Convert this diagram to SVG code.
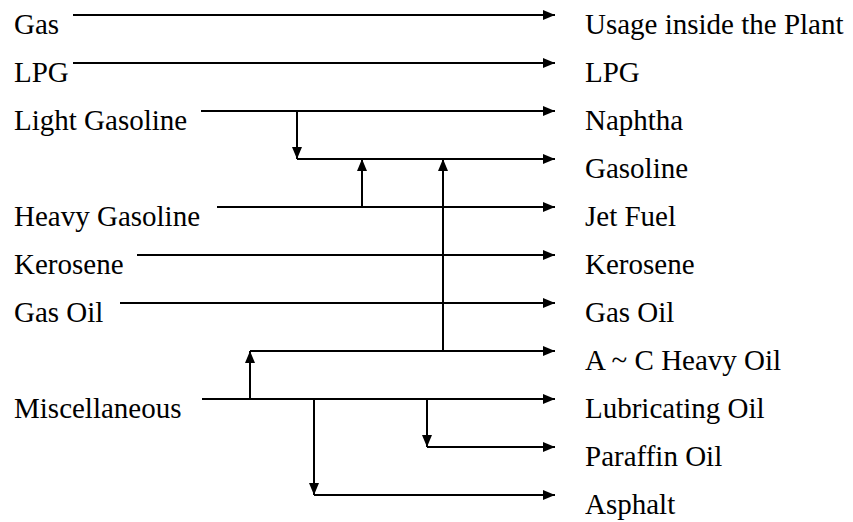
<svg xmlns="http://www.w3.org/2000/svg" width="853" height="522" viewBox="0 0 853 522">
<style>
.t{font-family:Liberation Serif, Times New Roman, serif;font-size:29px;fill:#000}
.a{stroke:#000;stroke-width:2;fill:none;marker-end:url(#ah)}
</style>
<defs>
<marker id="ah" markerUnits="userSpaceOnUse" markerWidth="13" markerHeight="11" refX="12" refY="5.5" orient="auto">
<path d="M0,0.5 L12,5.5 L0,10.5 Z" fill="#000"/>
</marker>
</defs>
<rect width="853" height="522" fill="#fff"/>
<g font-family="Liberation Serif" font-size="29" fill="#000">
<g id="sources">
<g id="src-gas"><text class="t" x="14" y="34">Gas</text></g>
<g id="src-lpg"><text class="t" x="14" y="82">LPG</text></g>
<g id="src-light-gasoline"><text class="t" x="14" y="130">Light Gasoline</text></g>
<g id="src-heavy-gasoline"><text class="t" x="14" y="226">Heavy Gasoline</text></g>
<g id="src-kerosene"><text class="t" x="14" y="274">Kerosene</text></g>
<g id="src-gas-oil"><text class="t" x="14" y="322">Gas Oil</text></g>
<g id="src-misc"><text class="t" x="14" y="418">Miscellaneous</text></g>
</g>
<g id="products">
<g id="p-usage"><text class="t" x="585" y="34">Usage inside the Plant</text></g>
<g id="p-lpg"><text class="t" x="585" y="82">LPG</text></g>
<g id="p-naphtha"><text class="t" x="585" y="130">Naphtha</text></g>
<g id="p-gasoline"><text class="t" x="585" y="178">Gasoline</text></g>
<g id="p-jet"><text class="t" x="585" y="226">Jet Fuel</text></g>
<g id="p-kerosene"><text class="t" x="585" y="274">Kerosene</text></g>
<g id="p-gas-oil"><text class="t" x="585" y="322">Gas Oil</text></g>
<g id="p-heavy-oil"><text class="t" x="585" y="370">A ~ C Heavy Oil</text></g>
<g id="p-lube"><text class="t" x="585" y="418">Lubricating Oil</text></g>
<g id="p-paraffin"><text class="t" x="585" y="466">Paraffin Oil</text></g>
<g id="p-asphalt"><text class="t" x="585" y="514">Asphalt</text></g>
</g>
</g>
<g id="connectors">
<line class="a" x1="73" y1="15" x2="555" y2="15"/>
<line class="a" x1="73" y1="63" x2="555" y2="63"/>
<line class="a" x1="201" y1="111" x2="555" y2="111"/>
<line class="a" x1="297" y1="159" x2="555" y2="159"/>
<line class="a" x1="217" y1="207" x2="555" y2="207"/>
<line class="a" x1="137" y1="255" x2="555" y2="255"/>
<line class="a" x1="120" y1="303" x2="555" y2="303"/>
<line class="a" x1="250" y1="351" x2="555" y2="351"/>
<line class="a" x1="202" y1="399" x2="555" y2="399"/>
<line class="a" x1="427" y1="447" x2="555" y2="447"/>
<line class="a" x1="314" y1="495" x2="555" y2="495"/>
<line class="a" x1="297" y1="111" x2="297" y2="159"/>
<line class="a" x1="362" y1="207" x2="362" y2="159"/>
<line class="a" x1="443" y1="351" x2="443" y2="159"/>
<line class="a" x1="250" y1="399" x2="250" y2="351"/>
<line class="a" x1="314" y1="399" x2="314" y2="495"/>
<line class="a" x1="427" y1="399" x2="427" y2="447"/>
</g>
</svg>
